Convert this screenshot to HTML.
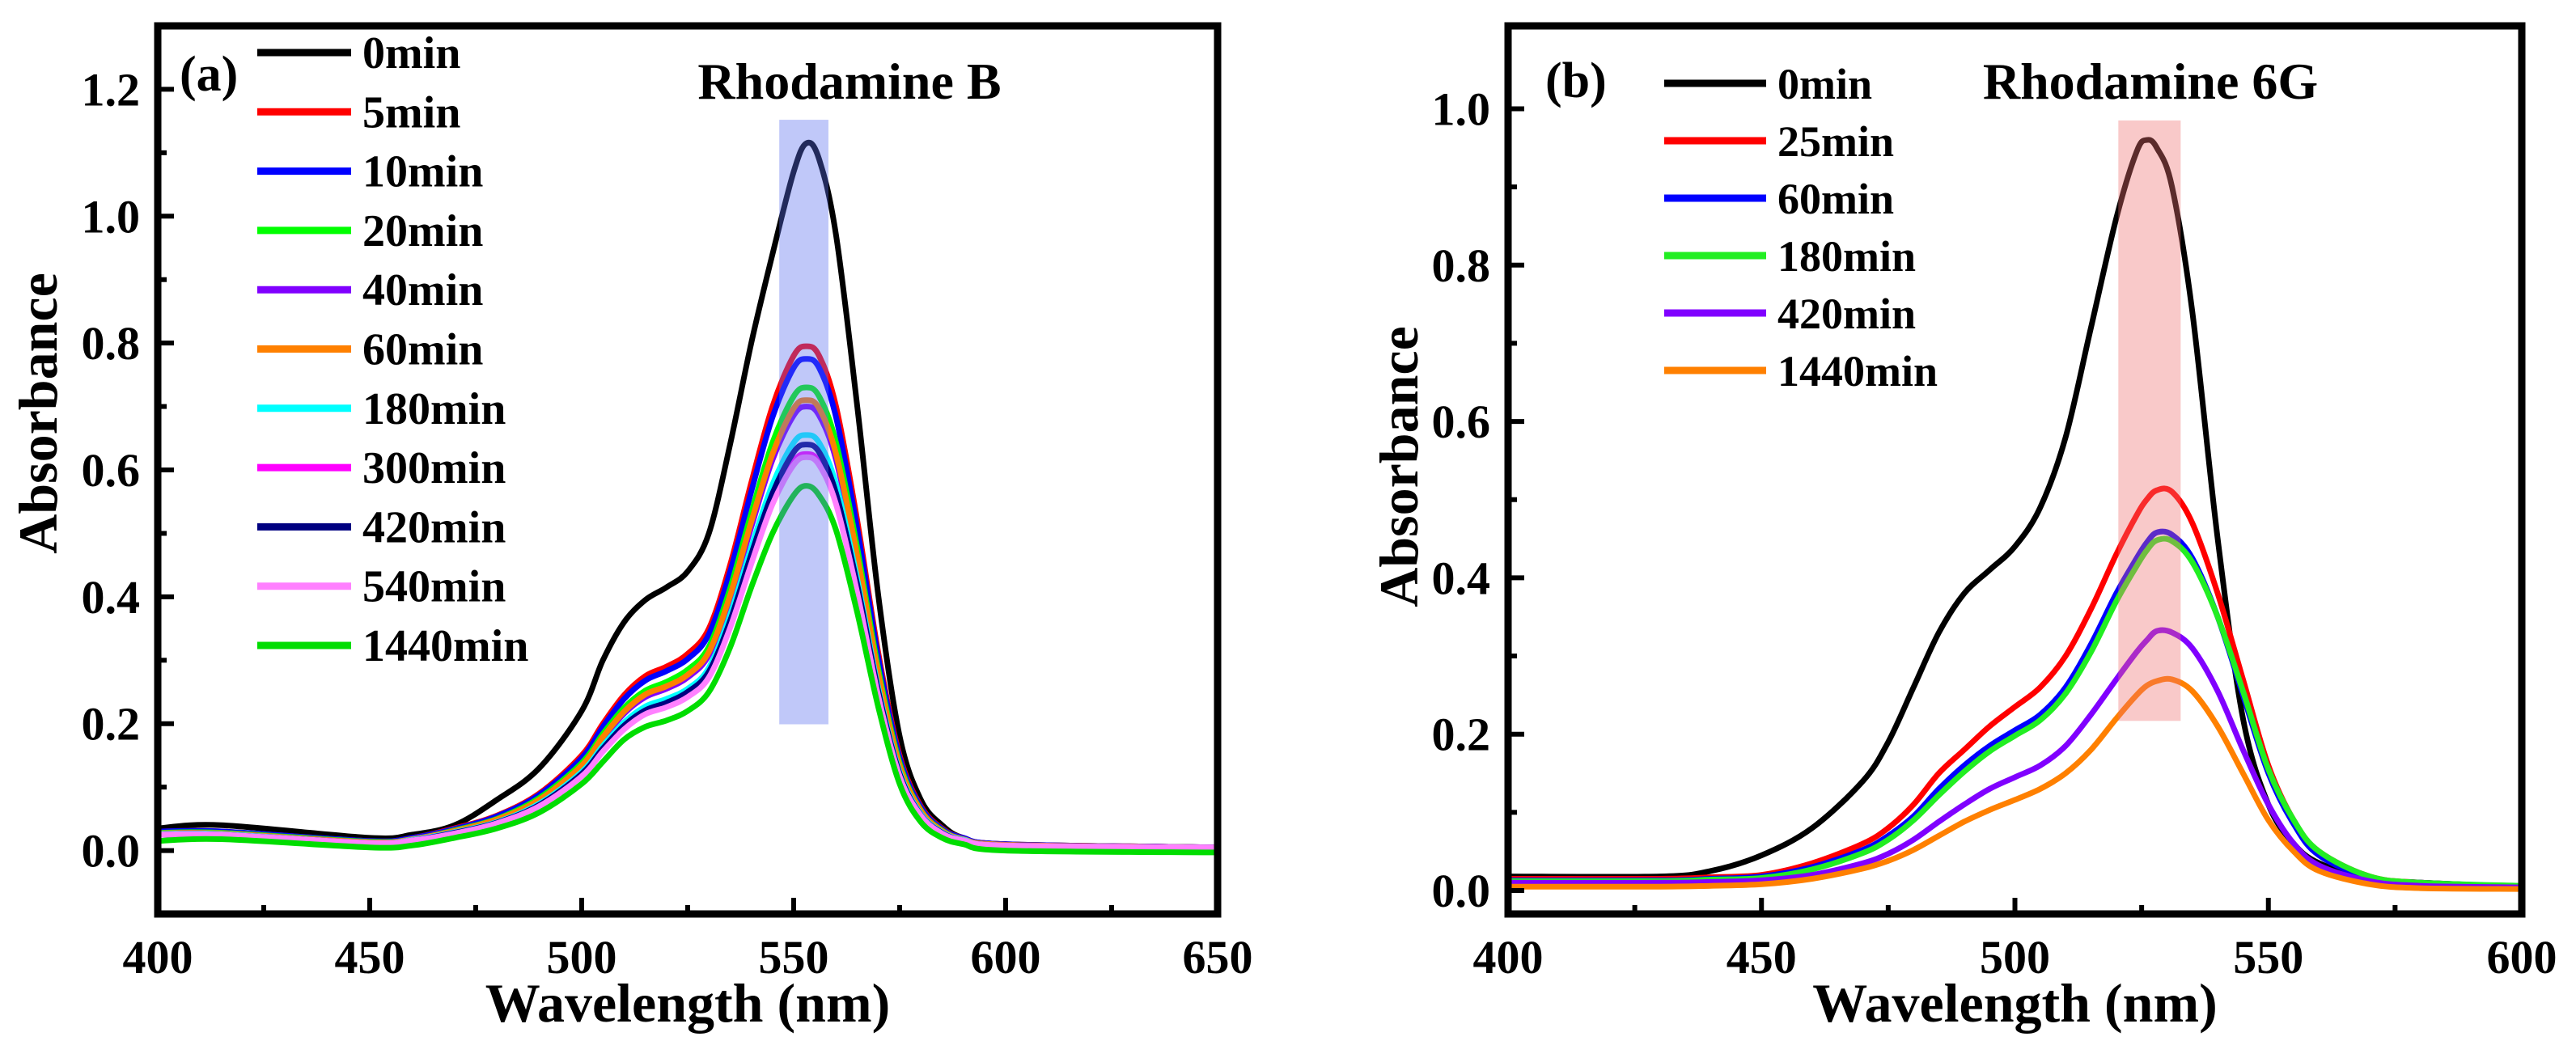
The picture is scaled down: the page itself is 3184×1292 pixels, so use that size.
<!DOCTYPE html>
<html><head><meta charset="utf-8"><style>
html,body{margin:0;padding:0;background:#fff;}
svg{display:block;}
svg text{font-family:"Liberation Serif","Times New Roman","DejaVu Serif",serif;font-weight:bold;}
</style></head><body>
<svg id="fig" width="3184" height="1292" viewBox="0 0 3184 1292" xmlns="http://www.w3.org/2000/svg" font-family="Liberation Serif, serif" font-weight="bold">
<g id="pa"></g>
<g id="pb"></g>
</svg>
<script>
const aWl=[400,415,450,460,470,480,490,500,505,510,515,520,525,530,535,540,545,550,553,556,560,565,570,575,580,585,590,600,650];
const a0=[0.035,0.04,0.02,0.025,0.04,0.08,0.13,0.22,0.3,0.36,0.395,0.415,0.44,0.5,0.64,0.8,0.94,1.07,1.115,1.09,0.97,0.7,0.4,0.18,0.08,0.04,0.02,0.01,0.005];
const a5=[0.03,0.03,0.015,0.02,0.035,0.055,0.09,0.15,0.2,0.245,0.275,0.29,0.31,0.35,0.45,0.58,0.7,0.78,0.795,0.78,0.7,0.52,0.31,0.15,0.07,0.035,0.02,0.01,0.005];
const a10=[0.03,0.03,0.015,0.02,0.034,0.054,0.088,0.146,0.195,0.239,0.268,0.283,0.302,0.341,0.439,0.566,0.683,0.761,0.775,0.761,0.683,0.507,0.302,0.146,0.068,0.034,0.02,0.01,0.005];
const a20=[0.028,0.028,0.014,0.018,0.032,0.05,0.083,0.138,0.184,0.225,0.252,0.266,0.285,0.321,0.413,0.532,0.643,0.716,0.73,0.716,0.643,0.477,0.285,0.138,0.064,0.032,0.018,0.009,0.005];
const a40=[0.027,0.027,0.013,0.018,0.031,0.048,0.079,0.132,0.176,0.216,0.242,0.255,0.273,0.308,0.396,0.51,0.616,0.686,0.70,0.686,0.616,0.458,0.273,0.132,0.062,0.031,0.018,0.009,0.005];
const a60=[0.027,0.027,0.013,0.018,0.031,0.049,0.08,0.134,0.179,0.219,0.246,0.259,0.277,0.313,0.402,0.518,0.625,0.697,0.71,0.697,0.625,0.464,0.277,0.134,0.063,0.031,0.018,0.009,0.005];
const a180=[0.026,0.026,0.012,0.017,0.029,0.045,0.074,0.124,0.165,0.202,0.227,0.239,0.255,0.288,0.371,0.478,0.577,0.643,0.655,0.643,0.577,0.428,0.255,0.124,0.058,0.029,0.017,0.008,0.005];
const a300=[0.025,0.025,0.012,0.016,0.028,0.043,0.071,0.118,0.157,0.193,0.216,0.228,0.244,0.275,0.354,0.456,0.55,0.613,0.625,0.613,0.55,0.409,0.244,0.118,0.055,0.028,0.016,0.008,0.005];
const a420=[0.025,0.025,0.012,0.016,0.028,0.044,0.072,0.121,0.161,0.197,0.221,0.233,0.25,0.282,0.362,0.467,0.563,0.628,0.64,0.628,0.563,0.419,0.25,0.121,0.056,0.028,0.016,0.008,0.005];
const a540=[0.025,0.025,0.012,0.016,0.027,0.043,0.07,0.117,0.156,0.191,0.215,0.226,0.242,0.273,0.351,0.452,0.546,0.608,0.62,0.608,0.546,0.406,0.242,0.117,0.055,0.027,0.016,0.008,0.005];
const a1440=[0.015,0.018,0.005,0.008,0.02,0.035,0.06,0.105,0.14,0.175,0.195,0.205,0.22,0.25,0.32,0.415,0.5,0.56,0.575,0.56,0.505,0.375,0.225,0.105,0.045,0.02,0.01,0.0,-0.003];
const aLabels=["0min","5min","10min","20min","40min","60min","180min","300min","420min","540min","1440min"];
const aColors=["#000000","#ff0000","#0000ff","#00ff00","#8000ff","#ff8000","#00ffff","#ff00ff","#000080","#ff80ff","#00dd00"];
const aXTicks=[400,450,500,550,600,650];
const aYTicks=[0,0.2,0.4,0.6,0.8,1.0,1.2];
const aBand=[546.6,558.2,0.199,1.152];

const bWl=[400,430,440,450,460,470,475,480,485,490,495,500,505,510,515,520,524,526,528,531,535,540,545,550,555,560,570,580,600];
const b0=[0.018,0.018,0.025,0.045,0.08,0.14,0.19,0.26,0.33,0.38,0.41,0.44,0.49,0.58,0.72,0.86,0.945,0.96,0.95,0.9,0.74,0.45,0.22,0.11,0.06,0.035,0.015,0.01,0.005];
const b25=[0.015,0.015,0.017,0.02,0.035,0.06,0.08,0.11,0.15,0.18,0.21,0.235,0.26,0.3,0.36,0.43,0.48,0.5,0.512,0.51,0.47,0.38,0.27,0.16,0.09,0.05,0.018,0.01,0.005];
const b60=[0.013,0.013,0.015,0.018,0.03,0.052,0.07,0.095,0.13,0.16,0.185,0.205,0.225,0.26,0.315,0.38,0.425,0.445,0.458,0.455,0.425,0.35,0.25,0.15,0.085,0.045,0.016,0.01,0.005];
const b180=[0.012,0.012,0.014,0.016,0.027,0.048,0.065,0.09,0.122,0.152,0.178,0.198,0.218,0.252,0.305,0.37,0.415,0.435,0.448,0.447,0.42,0.35,0.255,0.155,0.09,0.05,0.018,0.01,0.006];
const b420=[0.01,0.01,0.011,0.013,0.02,0.035,0.047,0.065,0.088,0.11,0.13,0.145,0.16,0.185,0.225,0.27,0.305,0.32,0.332,0.33,0.31,0.255,0.18,0.11,0.06,0.032,0.012,0.006,0.004];
const b1440=[0.005,0.005,0.006,0.008,0.015,0.028,0.038,0.052,0.07,0.088,0.103,0.116,0.13,0.15,0.18,0.22,0.25,0.262,0.268,0.27,0.255,0.21,0.15,0.09,0.05,0.025,0.008,0.003,0.002];
const bLabels=["0min","25min","60min","180min","420min","1440min"];
const bColors=["#000000","#ff0000","#0000ff","#22ee22","#8000ff","#ff8000"];
const bXTicks=[400,450,500,550,600];
const bYTicks=[0,0.2,0.4,0.6,0.8,1.0];
const bBand=[520.4,532.7,0.217,0.985];

const NS="http://www.w3.org/2000/svg";
const FF="Liberation Serif, Times New Roman, DejaVu Serif, serif";
function mk(parent,tag,attrs,text){const e=document.createElementNS(NS,tag);for(const k in attrs)e.setAttribute(k,attrs[k]);if(tag==="text"){e.setAttribute("font-family",FF);e.setAttribute("font-weight","bold");}if(text!==undefined)e.textContent=text;parent.appendChild(e);return e;}

function smoothPath(pts){
  let d="M"+pts[0][0].toFixed(1)+","+pts[0][1].toFixed(1);
  for(let i=0;i<pts.length-1;i++){
    const p0=pts[Math.max(i-1,0)],p1=pts[i],p2=pts[i+1],p3=pts[Math.min(i+2,pts.length-1)];
    const c1x=p1[0]+(p2[0]-p0[0])/6,c1y=p1[1]+(p2[1]-p0[1])/6;
    const c2x=p2[0]-(p3[0]-p1[0])/6,c2y=p2[1]-(p3[1]-p1[1])/6;
    d+="C"+c1x.toFixed(1)+","+c1y.toFixed(1)+" "+c2x.toFixed(1)+","+c2y.toFixed(1)+" "+p2[0].toFixed(1)+","+p2[1].toFixed(1);
  }
  return d;
}

function panel(g,cfg){
  const L=cfg.L,R=cfg.R,T=32,B=1130;
  const sx=v=>L+(v-cfg.x0)/(cfg.x1-cfg.x0)*(R-L);
  const sy=v=>B-(v-cfg.y0)/(cfg.y1-cfg.y0)*(B-T);
  const clip=mk(g,"clipPath",{id:cfg.id+"clip"});
  mk(clip,"rect",{x:L,y:T,width:R-L,height:B-T});
  const cg=mk(g,"g",{"clip-path":"url(#"+cfg.id+"clip)"});
  
  
  cfg.series.forEach((s,i)=>{
    const pts=cfg.wl.map((w,j)=>[sx(w),sy(s[j])]);
    const p=mk(cg,"path",{d:smoothPath(pts),fill:"none",stroke:cfg.colors[i],"stroke-width":7,"stroke-linejoin":"round"});
    
    
  });
  const b=cfg.band;
  const band=mk(cg,"rect",{x:sx(b[0]),y:sy(b[3]),width:sx(b[1])-sx(b[0]),height:sy(b[2])-sy(b[3]),fill:cfg.bandColor,opacity:0.38});
  
  
  const fr=mk(g,"rect",{x:L,y:T,width:R-L,height:B-T,fill:"none",stroke:"#000","stroke-width":9});
  
  
  cfg.xt.forEach((v,i)=>{
    const x=sx(v);
    const t=mk(g,"line",{x1:x,x2:x,y1:B,y2:B-20,stroke:"#000","stroke-width":6});
    
    
    const lb=mk(g,"text",{x:x,y:1203,"font-size":58,"text-anchor":"middle"},String(v));
    
    
    if(i<cfg.xt.length-1){const xm=sx(v+25);
      const m=mk(g,"line",{x1:xm,x2:xm,y1:B,y2:B-11,stroke:"#000","stroke-width":6});
      
      }
  });
  cfg.yt.forEach((v,i)=>{
    const y=sy(v);
    const t=mk(g,"line",{x1:L,x2:L+20,y1:y,y2:y,stroke:"#000","stroke-width":6});
    
    
    const lb=mk(g,"text",{x:L-22,y:y+20,"font-size":58,"text-anchor":"end"},v.toFixed(1));
    
    
    const ym=sy(v+0.1);
    if(ym>T+10){const m=mk(g,"line",{x1:L,x2:L+11,y1:ym,y2:ym,stroke:"#000","stroke-width":6});
      
      }
    const ym2=sy(v-0.1);
    if(i==0&&ym2<B-10){const m=mk(g,"line",{x1:L,x2:L+11,y1:ym2,y2:ym2,stroke:"#000","stroke-width":6});
      
      }
  });
  const xt=mk(g,"text",{x:(L+R)/2,y:1263,"font-size":68,"text-anchor":"middle"},"Wavelength (nm)");
  
  
  const yt=mk(g,"text",{x:0,y:0,"font-size":68,"text-anchor":"middle",transform:"translate("+cfg.ylx+","+cfg.yly+") rotate(-90)"},"Absorbance");
  
  
  const tag=mk(g,"text",{x:cfg.tagX,y:cfg.tagY,"font-size":62},cfg.tag);
  
  
  const ti=mk(g,"text",{x:cfg.titleX,y:122,"font-size":64,"text-anchor":"middle"},cfg.title);
  
  
  const lg=mk(g,"g",{});
  
  
  cfg.labels.forEach((l,i)=>{
    const y=cfg.lgY+i*cfg.lgDy;
    const e=mk(lg,"g",{});
    
    
    mk(e,"line",{x1:cfg.lgX1,x2:cfg.lgX2,y1:y,y2:y,stroke:cfg.colors[i],"stroke-width":9});
    mk(e,"text",{x:cfg.lgX2+14,y:y+19,"font-size":cfg.lgFs},l);
  });
}
panel(document.getElementById("pa"),{id:"a",L:195,R:1505,x0:400,x1:650,y0:-0.1,y1:1.3,wl:aWl,
  series:[a0,a5,a10,a20,a40,a60,a180,a300,a420,a540,a1440],labels:aLabels,colors:aColors,xt:aXTicks,yt:aYTicks,
  band:aBand,bandColor:"#5a6ef0",ylx:70,yly:511,tag:"(a)",tagX:222,tagY:112,title:"Rhodamine B",titleX:1050,
  lgX1:318,lgX2:434,lgY:65,lgDy:73.3,lgFs:56});
panel(document.getElementById("pb"),{id:"b",L:1864,R:3117,x0:400,x1:600,y0:-0.03,y1:1.106,wl:bWl,
  series:[b0,b25,b60,b180,b420,b1440],labels:bLabels,colors:bColors,xt:bXTicks,yt:bYTicks,
  band:bBand,bandColor:"#f07070",ylx:1752,yly:577,tag:"(b)",tagX:1910,tagY:120,title:"Rhodamine 6G",titleX:2658,
  lgX1:2057,lgX2:2183,lgY:103,lgDy:71,lgFs:54});
</script>
</body></html>
